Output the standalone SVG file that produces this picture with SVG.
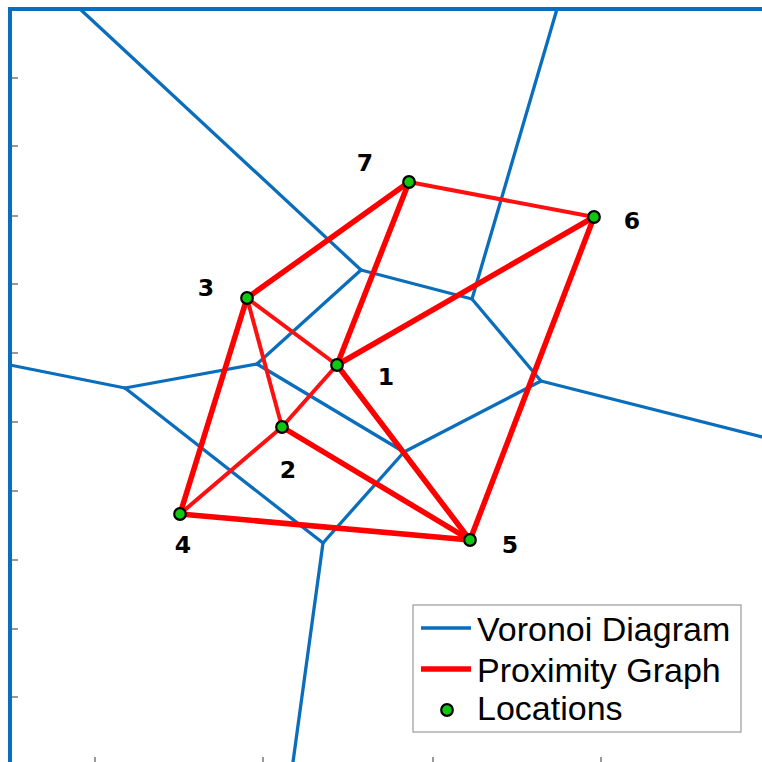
<svg xmlns="http://www.w3.org/2000/svg" width="762" height="762" viewBox="0 0 762 762">
<style>
.vor{stroke:#0A6EBD;stroke-width:3.3;fill:none;stroke-linecap:round;stroke-linejoin:round}
.ax{stroke:#0A6EBD;stroke-width:4;fill:none}
.tick{stroke:#777;stroke-width:1.5}
.thick{stroke:#FF0000;stroke-width:5.5;stroke-linecap:round}
.thin{stroke:#FF1010;stroke-width:4;stroke-linecap:round}
.pt{fill:#10C810;stroke:#000;stroke-width:2.2}
.lbl{font-family:"DejaVu Sans",Verdana,sans-serif;font-weight:bold;font-size:23.5px;fill:#000;text-anchor:middle}
.leg{font-family:"Liberation Sans",Arial,sans-serif;font-size:34px;fill:#000}
</style>
<rect width="762" height="762" fill="#fff"/>
<g id="axes">
<g class="tick">
<line x1="12" y1="78" x2="18" y2="78"/><line x1="12" y1="146" x2="18" y2="146"/><line x1="12" y1="216" x2="18" y2="216"/><line x1="12" y1="284" x2="18" y2="284"/><line x1="12" y1="353" x2="18" y2="353"/><line x1="12" y1="422" x2="18" y2="422"/><line x1="12" y1="491" x2="18" y2="491"/><line x1="12" y1="560" x2="18" y2="560"/><line x1="12" y1="629" x2="18" y2="629"/><line x1="12" y1="697" x2="18" y2="697"/>
<line x1="95" y1="757" x2="95" y2="762"/><line x1="263" y1="757" x2="263" y2="762"/><line x1="433" y1="757" x2="433" y2="762"/><line x1="601" y1="757" x2="601" y2="762"/>
</g>
<polyline class="ax" points="10,762 10,9 762,9"/>
</g>
<g id="voronoi" class="vor">
<line x1="80" y1="9" x2="361" y2="270"/>
<line x1="361" y1="270" x2="472" y2="299"/>
<line x1="361" y1="270" x2="257" y2="364"/>
<line x1="472" y1="299" x2="557" y2="9"/>
<line x1="472" y1="299" x2="541" y2="381"/>
<line x1="541" y1="381" x2="762" y2="437"/>
<line x1="541" y1="381" x2="404" y2="452"/>
<line x1="404" y1="452" x2="257" y2="364"/>
<line x1="404" y1="452" x2="323" y2="543"/>
<line x1="323" y1="543" x2="125" y2="388"/>
<line x1="323" y1="543" x2="293" y2="762"/>
<line x1="257" y1="364" x2="125" y2="388"/>
<line x1="125" y1="388" x2="10" y2="365"/>
</g>
<g id="connectors">
<line class="thick" x1="409" y1="182" x2="247" y2="298"/>
<line class="thick" x1="409" y1="182" x2="337" y2="365"/>
<line class="thin" x1="409" y1="182" x2="594" y2="217"/>
<line class="thick" x1="594" y1="217" x2="337" y2="365"/>
<line class="thick" x1="594" y1="217" x2="470" y2="540"/>
<line class="thin" x1="247" y1="298" x2="337" y2="365"/>
<line class="thin" x1="247" y1="298" x2="282" y2="427"/>
<line class="thick" x1="247" y1="298" x2="180" y2="514"/>
<line class="thin" x1="337" y1="365" x2="282" y2="427"/>
<line class="thick" x1="337" y1="365" x2="470" y2="540"/>
<line class="thin" x1="282" y1="427" x2="180" y2="514"/>
<line class="thick" x1="282" y1="427" x2="470" y2="540"/>
<line class="thick" x1="180" y1="514" x2="470" y2="540"/>
</g>
<g id="node1"><circle class="pt" cx="337" cy="365" r="5.8"/><text class="lbl" x="386" y="385">1</text></g>
<g id="node2"><circle class="pt" cx="282" cy="427" r="5.8"/><text class="lbl" x="288" y="478">2</text></g>
<g id="node3"><circle class="pt" cx="247" cy="298" r="5.8"/><text class="lbl" x="206" y="296">3</text></g>
<g id="node4"><circle class="pt" cx="180" cy="514" r="5.8"/><text class="lbl" x="183" y="553">4</text></g>
<g id="node5"><circle class="pt" cx="470" cy="540" r="5.8"/><text class="lbl" x="510" y="553">5</text></g>
<g id="node6"><circle class="pt" cx="594" cy="217" r="5.8"/><text class="lbl" x="632" y="229">6</text></g>
<g id="node7"><circle class="pt" cx="409" cy="182" r="5.8"/><text class="lbl" x="365" y="171">7</text></g>
<g id="legend">
<rect x="413" y="605" width="328" height="127" fill="#fff" stroke="#999" stroke-width="1.2"/>
<line x1="421" y1="628" x2="471" y2="628" stroke="#0A6EBD" stroke-width="3.3"/>
<text class="leg" x="477" y="641">Voronoi Diagram</text>
<line x1="421" y1="669" x2="471" y2="669" stroke="#FF0000" stroke-width="5.5"/>
<text class="leg" x="477" y="682">Proximity Graph</text>
<circle class="pt" cx="447" cy="710" r="5.8"/>
<text class="leg" x="477" y="720">Locations</text>
</g>
</svg>
